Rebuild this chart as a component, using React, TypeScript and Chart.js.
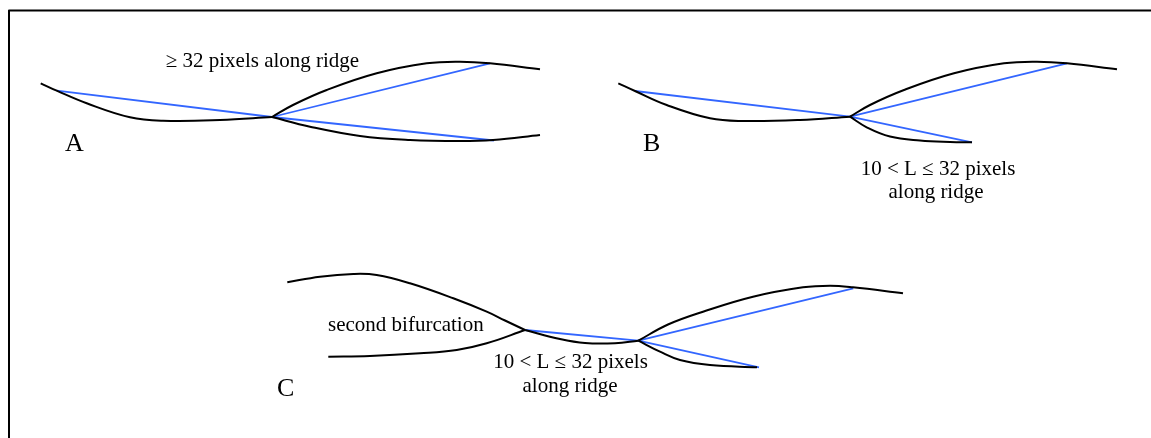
import React, { useEffect, useRef } from "react";
import { Chart, registerables } from "chart.js";

Chart.register(...registerables);

type P = [number, number];

// Frame (top and left edges)
const frameEdges: P[] = [[9, 438], [9, 10.5], [1151, 10.5]];

// Panel A ridges
const aLeft: P[] = [[40.7, 83.3], [56.7, 90.7], [86.7, 103.3], [130, 117.3], [163, 120.7], [220, 120], [272, 117]];
const aUpper: P[] = [[272, 117], [293, 105], [326.7, 90], [376.7, 73.3], [426.7, 63.3], [460, 61.7], [490, 63.3], [540, 69.3]];
const aLower: P[] = [[272, 117], [310, 126.7], [360, 136], [410, 140], [460, 141], [493, 140], [540, 135]];
const aChords: P[][] = [
  [[56.7, 90.7], [272, 117]],
  [[272, 117], [490, 63.3]],
  [[272, 117], [494, 140.5]],
];

// Panel B ridges
const bLeft: P[] = [[618.3, 83.3], [635, 91], [666.7, 105], [710, 118.3], [743, 121], [800, 120], [850, 116.7]];
const bUpper: P[] = [[850, 116.7], [870, 105], [904, 90], [954, 73.3], [1004, 63.3], [1037, 61.7], [1067, 63.3], [1117, 69.3]];
const bLower: P[] = [[850, 116.7], [866.7, 127.3], [890, 136.5], [920, 140.5], [950, 142], [972, 142.3]];
const bChords: P[][] = [
  [[635, 91], [850, 116.7]],
  [[850, 116.7], [1067, 63.3]],
  [[850, 116.7], [972, 142.3]],
];

// Panel C ridges
const cUpperLeft: P[] = [[287.3, 282.3], [320, 276.7], [353.3, 274], [376.7, 275], [410, 283.3], [453.3, 298.3], [486.7, 311.7], [505, 320.5], [525, 330]];
const cLowerLeft: P[] = [[328.3, 356.7], [370, 356], [420, 353.3], [456.7, 350], [486.7, 343.3], [525, 330]];
const cMiddle: P[] = [[525, 330], [560, 339], [585, 343], [615, 343.2], [638.3, 340.7]];
const cUpperRight: P[] = [[638.3, 340.7], [668, 324.5], [703, 311.7], [753, 296.7], [803, 287.3], [830, 285.7], [853, 287.3], [903, 293.3]];
const cLowerRight: P[] = [[638.3, 340.7], [660, 351.7], [680, 360], [710, 365], [757, 367.3]];
const cChords: P[][] = [
  [[525, 330], [638.3, 340.7]],
  [[638.3, 340.7], [853.3, 288.3]],
  [[638.3, 340.7], [759, 367.3]],
];

// Labels
const labelTexts = [
  "≥ 32 pixels along ridge",
  "A",
  "B",
  "10 < L ≤ 32 pixels",
  "along ridge",
  "second bifurcation",
  "C",
  "10 < L ≤ 32 pixels",
  "along ridge",
];
const labelX = [165.7, 65, 643, 938, 936, 328, 277, 570.5, 570];
const labelY = [66.7, 150.7, 151, 174.5, 198, 331, 396, 368, 391.5];
const labelAlign: CanvasTextAlign[] = ["left", "left", "left", "center", "center", "left", "left", "center", "center"];
const labelSize = [21, 26, 26, 21, 21, 21, 26, 21, 21];

const BLACK = "#000000";
const BLUE = "rgb(51,102,255)";

const textPlugin = {
  id: "diagramText",
  afterDatasetsDraw(chart: any) {
    const ctx = chart.ctx as CanvasRenderingContext2D;
    const xs = chart.scales.x;
    const ys = chart.scales.y;
    ctx.save();
    ctx.fillStyle = "#000";
    ctx.textBaseline = "alphabetic";
    labelTexts.forEach((t, i) => {
      ctx.font = `${labelSize[i]}px "Liberation Serif", "Times New Roman", serif`;
      ctx.textAlign = labelAlign[i];
      ctx.fillText(t, xs.getPixelForValue(labelX[i]), ys.getPixelForValue(labelY[i]));
    });
    ctx.restore();
  },
};

function curve(pts: P[], color: string, width: number, smooth: boolean) {
  return {
    data: pts.map(([x, y]) => ({ x, y })),
    borderColor: color,
    borderWidth: width,
    showLine: true,
    pointRadius: 0,
    pointHoverRadius: 0,
    fill: false,
    tension: smooth ? 0.4 : 0,
    cubicInterpolationMode: "default",
    borderCapStyle: "butt",
    borderJoinStyle: "round",
  } as any;
}

export default function App() {
  const ref = useRef<HTMLCanvasElement | null>(null);
  useEffect(() => {
    if (!ref.current) return;
    const blackCurves = [aLeft, aUpper, aLower, bLeft, bUpper, bLower, cUpperLeft, cLowerLeft, cMiddle, cUpperRight, cLowerRight];
    const chords = [...aChords, ...bChords, ...cChords];
    const datasets = [
      curve(frameEdges, "#000", 2, false),
      ...blackCurves.map((c) => curve(c, BLACK, 2, true)),
      ...chords.map((c) => curve(c, BLUE, 1.8, false)),
    ];
    const chart = new Chart(ref.current, {
      type: "scatter",
      data: { datasets },
      options: {
        animation: false,
        responsive: true,
        maintainAspectRatio: false,
        layout: { padding: 0 },
        plugins: { legend: { display: false }, tooltip: { enabled: false } },
        events: [],
        scales: {
          x: { type: "linear", min: 0, max: 1151, display: false },
          y: { type: "linear", min: 0, max: 438, reverse: true, display: false },
        },
      },
      plugins: [textPlugin],
    } as any);
    return () => chart.destroy();
  }, []);
  return (
    <div style={{ position: "absolute", left: 0, top: 0, width: 1151, height: 438, background: "#fff" }}>
      <canvas ref={ref} />
    </div>
  );
}
